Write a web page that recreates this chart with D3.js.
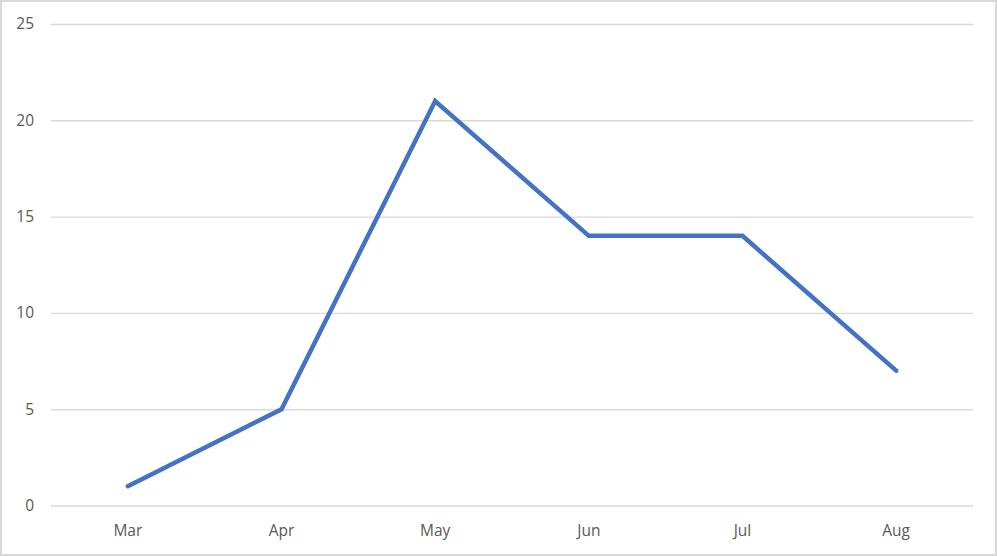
<!DOCTYPE html>
<html><head><meta charset="utf-8">
<script src="https://cdn.jsdelivr.net/npm/d3@7"></script>
<style>html,body{margin:0;padding:0;background:#fff;}svg{display:block;}</style>
</head><body>
<svg id="chart" width="997" height="556"></svg>
<script>
const categories = ["Mar", "Apr", "May", "Jun", "Jul", "Aug"];
const values = [1, 5, 21, 14, 14, 7];
const yTicks = [0, 5, 10, 15, 20, 25];

(function () {
const W = 997, H = 556;
const mLeft = 51, mRight = 973, mTop = 24, mBottom = 505.5;
const svg = d3.select("#chart");
svg.append("rect").attr("x", 1).attr("y", 1).attr("width", W - 2).attr("height", H - 2)
  .attr("fill", "#fff").attr("stroke", "#d9d9d9").attr("stroke-width", 2);

const x = d3.scaleBand().domain(categories).range([mLeft, mRight]);
const y = d3.scaleLinear().domain([0, 25]).range([mBottom, mTop]);

const font = "'Open Sans', 'Noto Sans', sans-serif";
const yAxis = d3.axisLeft(y).tickValues(yTicks).tickSize(-(mRight - mLeft)).tickPadding(17);
const gy = svg.append("g").attr("transform", `translate(${mLeft},0)`).call(yAxis);
gy.select(".domain").remove();
gy.selectAll(".tick line").attr("stroke", "#d9d9d9").attr("stroke-width", 1.4);
gy.selectAll(".tick text").attr("fill", "#595959").style("font-family", font).style("font-size", "15.5px");

const xAxis = d3.axisBottom(x).tickSize(0).tickPadding(19);
const gx = svg.append("g").attr("transform", `translate(0,${mBottom})`).call(xAxis);
gx.select(".domain").remove();
gx.selectAll(".tick text").attr("fill", "#595959").style("font-family", font).style("font-size", "15.5px");

const line = d3.line().x((d, i) => x(categories[i]) + x.bandwidth() / 2).y(d => y(d));
svg.append("path").datum(values).attr("d", line).attr("fill", "none")
  .attr("stroke", "#4472c4").attr("stroke-width", 4.5).attr("stroke-linecap", "round").attr("stroke-linejoin", "miter");
})();
</script>
</body></html>
